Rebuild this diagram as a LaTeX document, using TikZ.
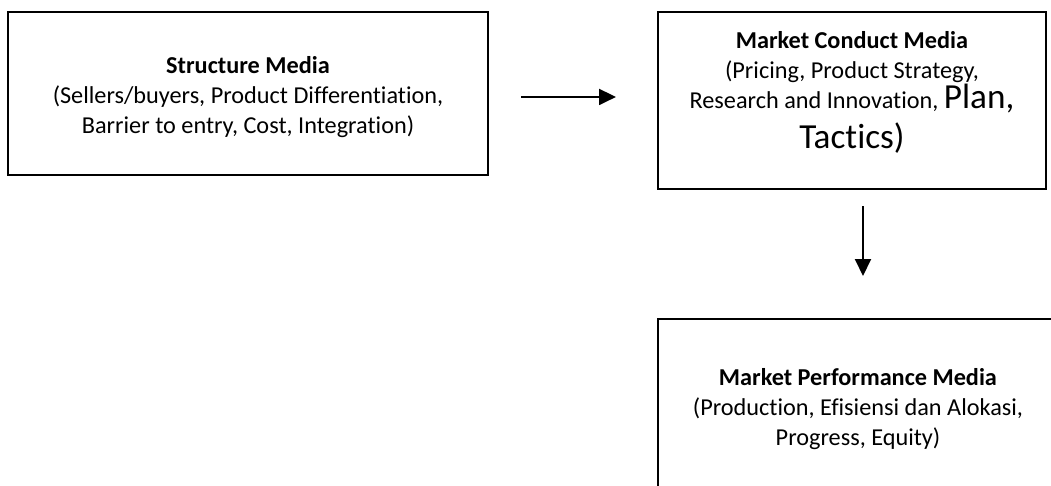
\documentclass[tikz,border=0pt]{standalone}
\usepackage{fontspec}
\setmainfont{Carlito}[Ligatures=NoCommon]
\usetikzlibrary{arrows.meta}

\begin{document}
\begin{tikzpicture}[x=0.75pt,y=-0.75pt,-{Triangle[length=12.75pt,width=12pt]},
  line width=1.5pt,
  media box/.style={rectangle,draw,line width=1.5pt,inner sep=0pt},
  media text/.style={align=center,font=\fontsize{18.2}{22.5}\selectfont}]

  \clip (0,0) rectangle (1051,486);
  \useasboundingbox (0,0) rectangle (1051,486);

  \node[media box,minimum width=360pt,minimum height=122.25pt] (structure) at (248,93.5) {};
  \node[media box,minimum width=291pt,minimum height=132.75pt] (conduct) at (852,100.5) {};
  \node[media box,minimum width=309pt,minimum height=143.25pt] (performance) at (864,414.5) {};

  \node[media text] (structure text) at (248,97.5)
    {\textbf{Structure Media}\\(Sellers/buyers, Product Differentiation,\\Barrier to entry, Cost, Integration)};
  \node[media text] (conduct text) at (852,92.5)
    {\textbf{Market Conduct Media}\\(Pricing, Product Strategy,\\Research and Innovation, {\fontsize{26.4}{30}\selectfont Plan,}\\[6.75pt]
     {\fontsize{26.4}{30}\selectfont Tactics)}};
  \node[media text] (performance text) at (858,409)
    {\textbf{Market Performance Media}\\(Production, Efisiensi dan Alokasi,\\Progress, Equity)};

  \path
    ([yshift=-2.6pt]structure.east)
        edge [shorten <=24pt,shorten >=30.75pt] ([yshift=-2.6pt]structure.east -| conduct.west)
    ([xshift=8.25pt]conduct.south)
        edge [shorten <=12pt,shorten >=31.5pt] ([xshift=8.25pt]conduct.south |- performance.north)
    ;
\end{tikzpicture}
\end{document}
